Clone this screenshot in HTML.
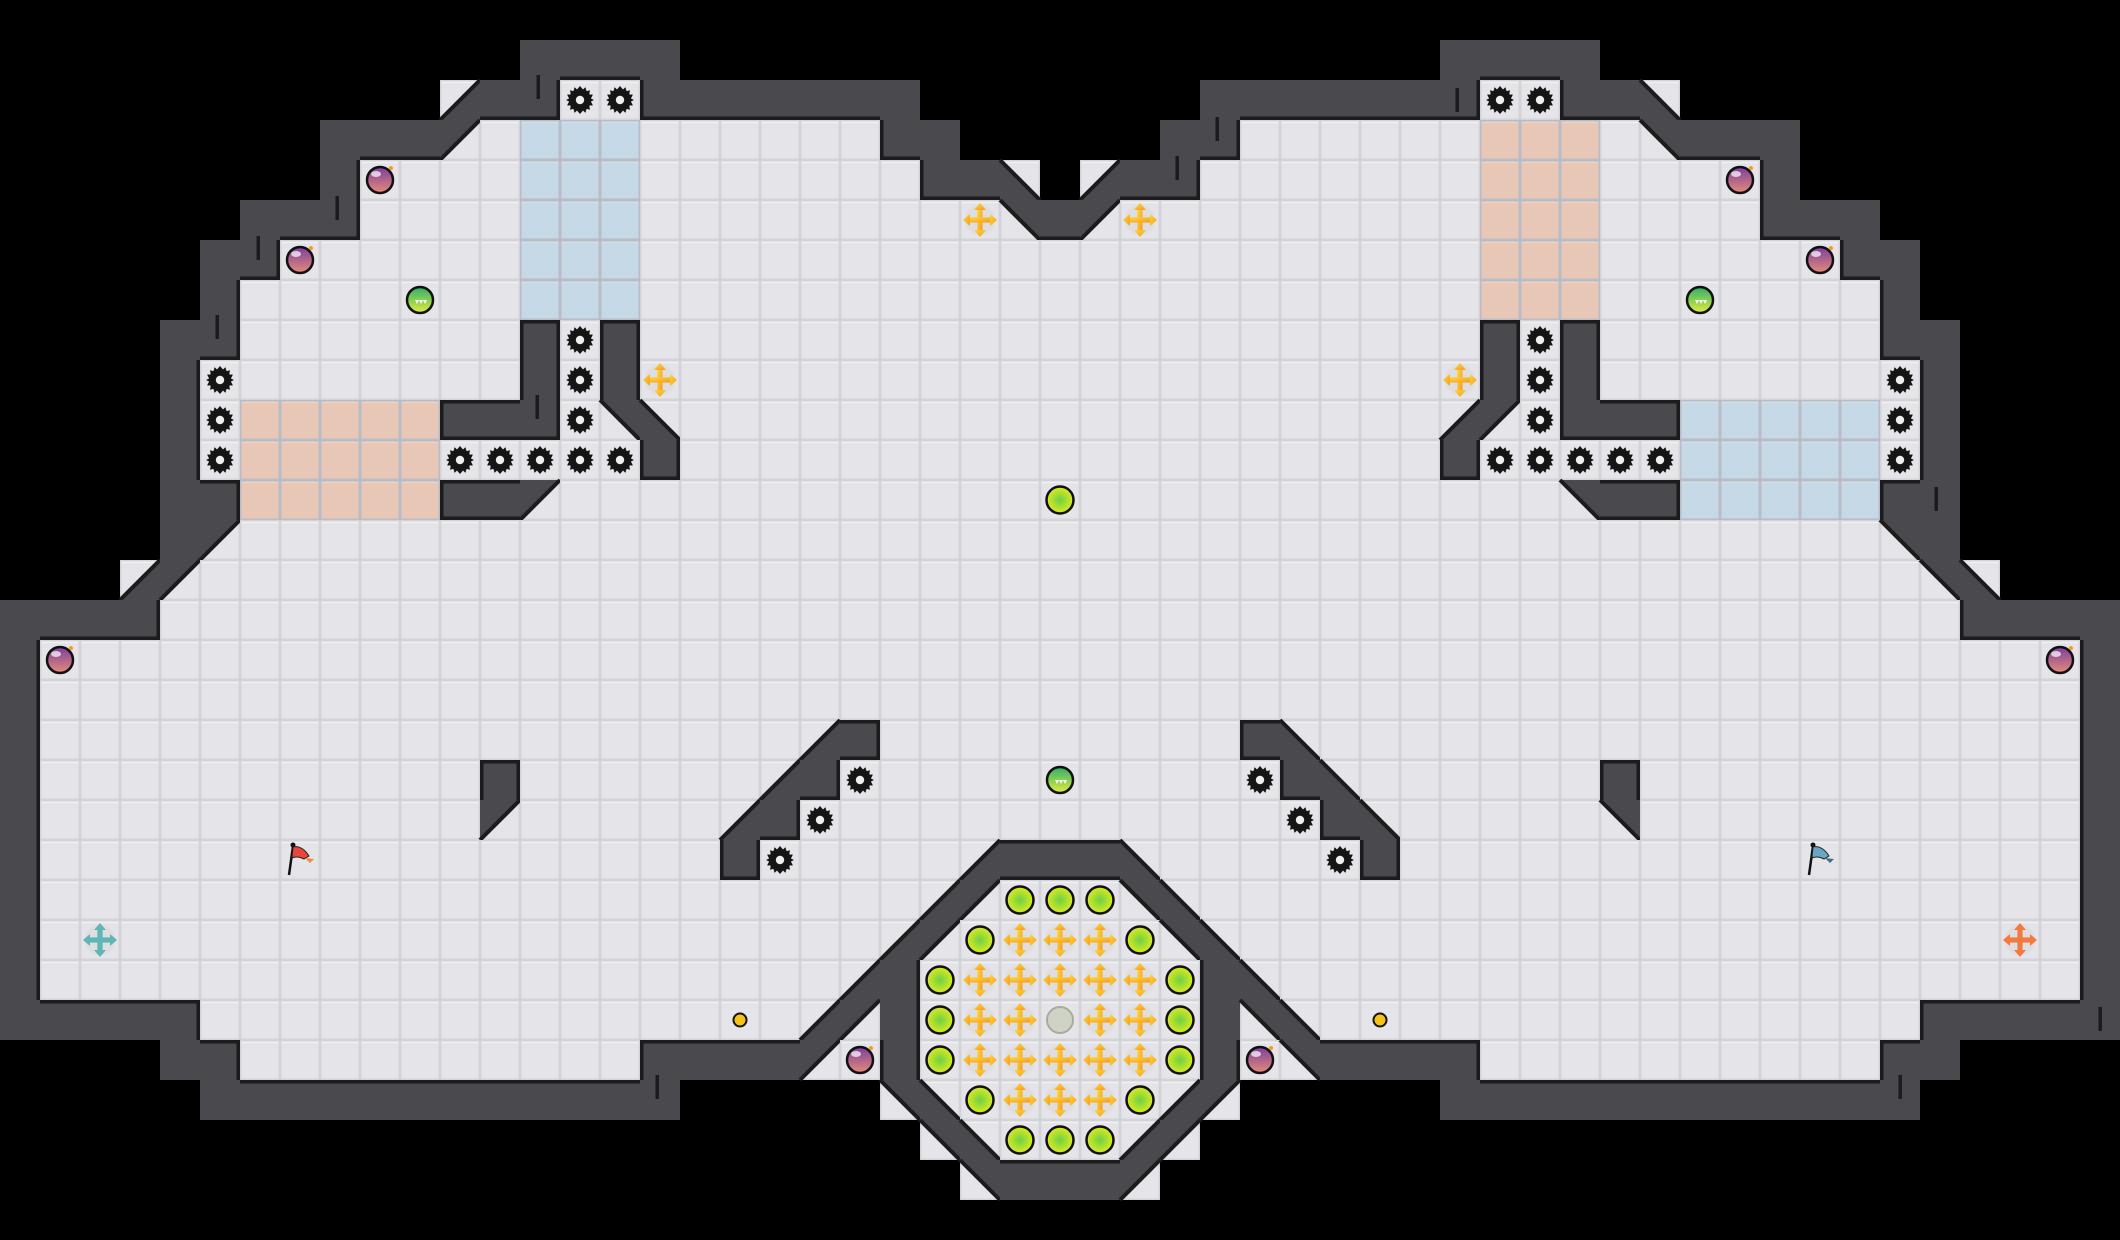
<!DOCTYPE html>
<html><head><meta charset="utf-8">
<style>html,body{margin:0;padding:0;background:#000;width:2120px;height:1240px;overflow:hidden}svg{display:block}</style>
</head><body>
<svg id="s" xmlns="http://www.w3.org/2000/svg" width="2120" height="1240" viewBox="0 0 2120 1240">
<defs>
<radialGradient id="gb" cx="0.5" cy="0.5" r="0.55"><stop offset="0" stop-color="#6fcf45"/><stop offset="1" stop-color="#e8ee1c"/></radialGradient>
<linearGradient id="gm" x1="0" y1="0" x2="0" y2="1"><stop offset="0" stop-color="#7b3f9e"/><stop offset="1" stop-color="#e78a78"/></linearGradient>
<linearGradient id="gg" x1="0" y1="0" x2="0" y2="1"><stop offset="0" stop-color="#2fae6a"/><stop offset="1" stop-color="#e2ee3c"/></linearGradient>
<linearGradient id="gy" x1="0" y1="0" x2="1" y2="1"><stop offset="0" stop-color="#ffd836"/><stop offset="1" stop-color="#f59a25"/></linearGradient>
<symbol id="gear" viewBox="-20 -20 40 40" overflow="visible">
<polygon fill="#151515" points="0,-14 3,-10.5 5.4,-12.9 6.6,-8.8 9.9,-9.9 9.3,-5.5 12.9,-5.4 10.9,-1.5 14,0 10.9,1.5 12.9,5.4 9.3,5.5 9.9,9.9 6.6,8.8 5.4,12.9 3,10.5 0,14 -3,10.5 -5.4,12.9 -6.6,8.8 -9.9,9.9 -9.3,5.5 -12.9,5.4 -10.9,1.5 -14,0 -10.9,-1.5 -12.9,-5.4 -9.3,-5.5 -9.9,-9.9 -6.6,-8.8 -5.4,-12.9 -3,-10.5"/>
<circle r="4.2" fill="#eee"/></symbol>
<symbol id="bomb" viewBox="-20 -20 40 40" overflow="visible">
<circle r="13" fill="url(#gm)" stroke="#111" stroke-width="2.5"/>
<ellipse cx="-4" cy="-6" rx="5" ry="3" fill="#fff" opacity="0.7"/>
<circle cx="11" cy="-12" r="2" fill="#f39a2a"/></symbol>
<symbol id="gball" viewBox="-20 -20 40 40" overflow="visible">
<circle r="13" fill="url(#gg)" stroke="#111" stroke-width="2.5"/>
<path d="M-7,0 L7,0 L5,4 L3,0 L1,4 L-1,0 L-3,4 L-5,0Z" fill="#fff"/></symbol>
<symbol id="yball" viewBox="-20 -20 40 40" overflow="visible">
<circle r="13.5" fill="url(#gb)" stroke="#111" stroke-width="2.5"/></symbol>
<symbol id="cross" viewBox="-20 -20 40 40" overflow="visible">
<circle r="15" fill="#dcdce0" opacity="0.8"/>
<g fill="url(#gy)"><rect x="-2.6" y="-12" width="5.2" height="24"/><rect x="-12" y="-2.6" width="24" height="5.2"/>
<polygon points="0,-17 -6,-10 6,-10"/><polygon points="0,17 -6,10 6,10"/><polygon points="-17,0 -10,-6 -10,6"/><polygon points="17,0 10,-6 10,6"/></g></symbol>
</defs>
<g id="map"></g>
<g id="items"></g>
</svg>
<script>
const C=40,W=53,H=31;
const g=[...Array(H)].map(()=>Array(W).fill(' '));
function S(r,a,b,ch){ch=ch||'.';for(let c=a;c<=b;c++)g[r][c]=ch;}
// floor
S(2,14,15);S(3,12,21);S(4,9,22);S(5,9,24);S(6,7,26);S(7,6,26);S(8,6,26);
S(9,5,26);S(10,5,26);S(11,5,26);S(12,6,26);S(13,6,26);S(14,5,26);S(15,4,26);
for(let r=16;r<=24;r++)S(r,1,26);
S(25,5,26);S(26,6,15);S(26,21,21);S(26,23,26);S(27,24,26);S(28,25,26);
// walls
S(1,13,16,'#');
S(2,11,11,'d');S(2,12,13,'#');S(2,16,22,'#');
S(3,8,10,'#');S(3,11,11,'a');S(3,22,23,'#');
S(4,8,8,'#');S(4,23,24,'#');S(4,25,25,'c');
S(5,6,8,'#');S(5,25,25,'b');S(5,26,26,'#');
S(6,5,6,'#');S(7,5,5,'#');S(8,4,5,'#');S(8,13,13,'#');S(8,15,15,'#');
S(9,4,4,'#');S(9,13,13,'#');S(9,15,15,'#');
S(10,4,4,'#');S(10,11,13,'#');S(10,15,15,'b');S(10,16,16,'c');
S(11,4,4,'#');S(11,16,16,'#');
S(12,4,5,'#');S(12,11,12,'#');S(12,13,13,'a');
S(13,4,4,'#');S(13,5,5,'a');
S(14,3,3,'d');S(14,4,4,'a');
S(15,0,3,'#');
for(let r=16;r<=24;r++)S(r,0,0,'#');
S(25,0,4,'#');
S(26,4,5,'#');S(26,16,19,'#');S(26,20,20,'a');S(26,22,22,'#');
S(27,5,16,'#');S(27,22,22,'b');S(27,23,23,'c');
S(28,23,23,'b');S(28,24,24,'c');
S(29,24,24,'b');S(29,25,26,'#');
S(18,20,20,'d');S(18,21,21,'#');S(19,19,19,'d');S(19,20,20,'#');S(20,18,18,'d');S(20,19,19,'#');S(21,18,18,'#');
S(19,12,12,'#');S(20,12,12,'a');
S(21,24,24,'d');S(21,25,26,'#');S(22,23,23,'d');S(22,24,24,'a');S(23,22,22,'d');S(23,23,23,'a');
S(24,21,21,'d');S(24,22,22,'#');S(25,20,20,'d');S(25,21,21,'a');S(25,22,22,'#');
const m={a:'b',b:'a',c:'d',d:'c'};
for(let r=0;r<H;r++)for(let c=0;c<26;c++){const ch=g[r][c];g[r][52-c]=m[ch]||ch;}
const tint={};
function T(r1,r2,c1,c2,col){for(let r=r1;r<=r2;r++)for(let c=c1;c<=c2;c++)tint[r+','+c]=col;}
const BL='#c5d9e7',SA='#e9c7b7';
T(3,7,13,15,BL);T(10,12,6,10,SA);T(3,7,37,39,SA);T(10,12,42,46,BL);
let h='';
const WC='#49494e',ED='#1c1c1f';
for(let r=0;r<H;r++)for(let c=0;c<W;c++){
 const ch=g[r][c],x=c*C,y=r*C;
 if(ch===' ')continue;
 if(ch==='#'){h+=`<rect x="${x}" y="${y}" width="40" height="40" fill="${WC}"/>`;continue;}
 const t=tint[r+','+c];
 h+=`<rect x="${x}" y="${y}" width="40" height="40" fill="${t?'#b9bcc4':'#d3d3d8'}"/><rect x="${x+1.5}" y="${y+1.5}" width="37" height="37" fill="${t||'#e5e5e9'}"/><rect x="${x+1.5}" y="${y+1.5}" width="37" height="1.5" fill="#f2f2f4" opacity="${t?0.3:1}"/>`;
 if(ch!=='.'){
  let p,l;
  if(ch==='a'){p=`${x},${y} ${x+C},${y} ${x},${y+C}`;l=[x+C,y,x,y+C];}
  if(ch==='b'){p=`${x},${y} ${x+C},${y} ${x+C},${y+C}`;l=[x,y,x+C,y+C];}
  if(ch==='c'){p=`${x},${y} ${x},${y+C} ${x+C},${y+C}`;l=[x,y,x+C,y+C];}
  if(ch==='d'){p=`${x+C},${y} ${x+C},${y+C} ${x},${y+C}`;l=[x+C,y,x,y+C];}
  h+=`<polygon points="${p}" fill="${WC}"/><line x1="${l[0]}" y1="${l[1]}" x2="${l[2]}" y2="${l[3]}" stroke="${ED}" stroke-width="4"/>`;
 }
}
// wall edges against floor
const fl=(r,c)=>r>=0&&r<H&&c>=0&&c<W&&g[r][c]==='.';
for(let r=0;r<H;r++)for(let c=0;c<W;c++){
 if(g[r][c]!=='#')continue;const x=c*C,y=r*C;
 if(fl(r-1,c))h+=`<rect x="${x}" y="${y}" width="40" height="3.5" fill="${ED}"/>`;
 if(fl(r+1,c))h+=`<rect x="${x}" y="${y+36.5}" width="40" height="3.5" fill="${ED}"/>`;
 if(fl(r,c-1))h+=`<rect x="${x}" y="${y}" width="3.5" height="40" fill="${ED}"/>`;
 if(fl(r,c+1))h+=`<rect x="${x+36.5}" y="${y}" width="3.5" height="40" fill="${ED}"/>`;
}
// ticks
[[538,75],[337,196],[258,236],[217,315],[537,395],[1217,117],[1177,156],[657,1075],[1457,88],[1936,487],[2100,1007],[1900,1075]].forEach(p=>{h+=`<rect x="${p[0]-1.5}" y="${p[1]}" width="3.5" height="24" fill="#1c1c1f"/>`;});
document.getElementById('map').innerHTML=h;
let it='';
function U(id,c,r){it+=`<use href="#${id}" x="${c*C}" y="${r*C}" width="40" height="40"/>`;}
[[14,2],[15,2],[37,2],[38,2],[14,8],[14,9],[14,10],[38,8],[38,9],[38,10],[5,9],[5,10],[5,11],[47,9],[47,10],[47,11],
 [11,11],[12,11],[13,11],[14,11],[15,11],[37,11],[38,11],[39,11],[40,11],[41,11],
 [21,19],[20,20],[19,21],[31,19],[32,20],[33,21]].forEach(p=>U('gear',p[0],p[1]));
[[9,4],[7,6],[1,16],[21,26],[43,4],[45,6],[51,16],[31,26]].forEach(p=>U('bomb',p[0],p[1]));
[[10,7],[42,7],[26,19]].forEach(p=>U('gball',p[0],p[1]));
[[16,9],[36,9],[24,5],[28,5]].forEach(p=>U('cross',p[0],p[1]));
U('yball',26,12);
// octagon
[[25,22],[26,22],[27,22],[24,23],[28,23],[23,24],[29,24],[23,25],[29,25],[23,26],[29,26],[24,27],[28,27],[25,28],[26,28],[27,28]].forEach(p=>U('yball',p[0],p[1]));
[[25,23],[26,23],[27,23],[24,24],[25,24],[26,24],[27,24],[28,24],[24,25],[25,25],[27,25],[28,25],[24,26],[25,26],[26,26],[27,26],[28,26],[25,27],[26,27],[27,27]].forEach(p=>U('cross',p[0],p[1]));
it+=`<circle cx="1060" cy="1020" r="13" fill="#cfd3c6" stroke="#a9ab9f" stroke-width="2"/>`;
it+=`<circle cx="740" cy="1020" r="6.5" fill="#f5c318" stroke="#111" stroke-width="2"/><circle cx="1380" cy="1020" r="6.5" fill="#f5c318" stroke="#111" stroke-width="2"/>`;
function flag(cx,cy,col,col2){return `<g transform="translate(${cx},${cy})"><line x1="-11" y1="15" x2="-7" y2="-14" stroke="#111" stroke-width="2.5"/><circle cx="-7" cy="-15" r="2.5" fill="#111"/><path d="M-7,-13 C0,-15 6,-9 9,-4 L4,-1 C0,-3 -4,-4 -8,-2Z" fill="${col}" stroke="#222" stroke-width="1"/><path d="M5,-2 L14,-1 L10,3 Z" fill="${col2}"/></g>`;}
it+=flag(300,860,'#e8453c','#f08a3a');
it+=flag(1820,860,'#6aa6c4','#3b6f8a');
function cr(cx,cy,col){return `<g transform="translate(${cx},${cy})"><circle r="15" fill="#dcdce0" opacity="0.8"/><g fill="${col}"><rect x="-2.6" y="-12" width="5.2" height="24"/><rect x="-12" y="-2.6" width="24" height="5.2"/><polygon points="0,-17 -6,-10 6,-10"/><polygon points="0,17 -6,10 6,10"/><polygon points="-17,0 -10,-6 -10,6"/><polygon points="17,0 10,-6 10,6"/></g></g>`;}
it+=cr(100,940,'#5db8b4');
it+=cr(2020,940,'#f27a3e');
document.getElementById('items').innerHTML=it;
</script>
</body></html>
